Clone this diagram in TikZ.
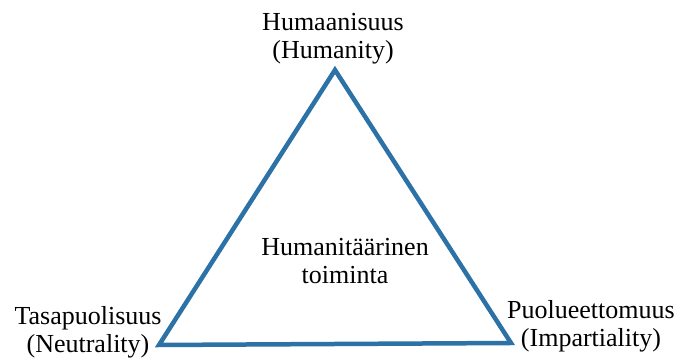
\documentclass[tikz,border=0pt]{standalone}
\usepackage{fontspec}
\setmainfont{Liberation Serif}
\definecolor{triblue}{HTML}{2C72A6}
\tikzset{
   label/.style={inner sep=0pt, anchor=north, align=center, font=\fontsize{26}{28}\selectfont},
}
\begin{document}
\begin{tikzpicture}[x=1pt,y=1pt]
   \useasboundingbox (0,0) rectangle (678,361);

   \coordinate (top) at (335,291);
   \coordinate (left) at (159,16);
   \coordinate (right) at (511,18);

   \draw[triblue, line width=4.5pt, line join=miter] (top) -- (left) -- (right) -- cycle;

   \node[label] (hum) at (333,348) {Humaanisuus\\(Humanity)};
   \node[label] (neu) at (88,55) {Tasapuolisuus\\(Neutrality)};
   \node[label] (imp) at (591,61) {Puolueettomuus\\(Impartiality)};
   \node[label] (act) at (345,123) {Humanitäärinen\\toiminta};
\end{tikzpicture}
\end{document}
